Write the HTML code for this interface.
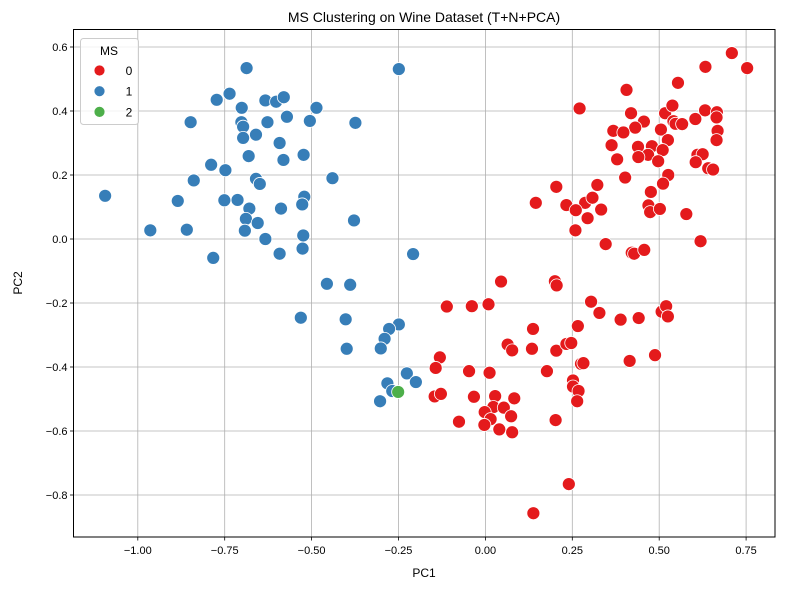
<!DOCTYPE html>
<html><head><meta charset="utf-8"><style>
body{margin:0;background:#fff;}
svg text{font-family:"Liberation Sans",sans-serif;fill:#000;}
</style></head><body>
<svg id="chart" width="790" height="590" xmlns="http://www.w3.org/2000/svg">
<rect width="790" height="590" fill="#fff"/>
<g id="grid"></g>
<g id="pts"></g>
<rect x="73.5" y="29.5" width="701.5" height="507.5" fill="none" stroke="#000" stroke-width="1"/>
<g id="ticks"></g>
<text x="424" y="22" font-size="14" text-anchor="middle">MS Clustering on Wine Dataset (T+N+PCA)</text>
<text x="424" y="577" font-size="12" text-anchor="middle">PC1</text>
<text x="22" y="283" font-size="12" text-anchor="middle" transform="rotate(-90 22 283)">PC2</text>
<g>
<rect x="80.5" y="38.5" width="58" height="86" rx="3" fill="#fff" fill-opacity="0.8" stroke="#ccc"/>
<text x="109" y="55" font-size="12" text-anchor="middle">MS</text>
<g id="leg"></g>
</g>
</svg>
<script>
const xTicks=[-1.00,-0.75,-0.50,-0.25,0.00,0.25,0.50,0.75];
const yTicks=[0.6,0.4,0.2,0.0,-0.2,-0.4,-0.6,-0.8];
const clusters=["0","1","2"];
const colors=["#e41a1c","#377eb8","#4daf4a"];
const cluster1X=[-0.687,-0.249,-0.736,-0.773,-0.633,-0.602,-0.580,-0.701,-0.486,-0.571,-0.848,-0.702,-0.697,-0.627,-0.505,-0.374,-0.697,-0.660,-0.592,-0.681,-0.523,-0.581,-0.789,-0.748,-0.839,-0.660,-0.649,-0.440,-1.094,-0.885,-0.751,-0.713,-0.521,-0.527,-0.679,-0.588,-0.689,-0.655,-0.378,-0.964,-0.859,-0.692,-0.633,-0.524,-0.526,-0.783,-0.592,-0.208,-0.456,-0.389,-0.531,-0.402,-0.399,-0.249,-0.277,-0.290,-0.301,-0.226,-0.200,-0.282,-0.268,-0.303];
const cluster1Y=[0.534,0.531,0.454,0.435,0.433,0.429,0.443,0.410,0.410,0.382,0.365,0.365,0.351,0.365,0.369,0.363,0.316,0.326,0.300,0.259,0.263,0.247,0.232,0.215,0.183,0.188,0.172,0.190,0.135,0.119,0.121,0.122,0.132,0.108,0.095,0.095,0.063,0.050,0.058,0.027,0.029,0.026,0.000,0.011,-0.030,-0.059,-0.046,-0.047,-0.140,-0.143,-0.246,-0.251,-0.343,-0.267,-0.281,-0.312,-0.342,-0.420,-0.447,-0.451,-0.475,-0.507];
const cluster0X=[0.709,0.633,0.753,0.554,0.406,0.271,0.419,0.517,0.538,0.632,0.666,0.665,0.541,0.547,0.566,0.604,0.456,0.431,0.368,0.397,0.505,0.668,0.525,0.665,0.363,0.439,0.479,0.510,0.468,0.440,0.610,0.625,0.379,0.497,0.605,0.641,0.655,0.402,0.526,0.511,0.204,0.322,0.476,0.145,0.233,0.287,0.308,0.260,0.333,0.294,0.469,0.474,0.502,0.578,0.259,0.346,0.421,0.428,0.457,0.619,0.045,0.200,0.205,-0.111,-0.039,0.009,0.304,0.328,0.389,0.441,0.507,0.520,0.525,0.137,0.266,0.064,0.077,0.134,0.204,0.233,0.247,-0.131,-0.143,0.415,0.488,0.275,0.282,-0.047,0.012,0.177,0.252,0.252,0.268,0.264,-0.146,-0.128,-0.033,0.028,0.083,0.023,0.053,-0.002,0.015,0.074,-0.003,-0.076,0.040,0.077,0.202,0.240,0.138];
const cluster0Y=[0.581,0.538,0.534,0.488,0.466,0.408,0.393,0.393,0.417,0.402,0.396,0.380,0.368,0.360,0.359,0.375,0.367,0.348,0.338,0.333,0.342,0.338,0.309,0.309,0.293,0.288,0.290,0.278,0.263,0.256,0.263,0.265,0.249,0.243,0.240,0.221,0.217,0.192,0.200,0.173,0.163,0.169,0.147,0.113,0.106,0.113,0.129,0.090,0.092,0.065,0.105,0.084,0.094,0.078,0.027,-0.016,-0.043,-0.046,-0.034,-0.007,-0.133,-0.132,-0.145,-0.211,-0.210,-0.204,-0.196,-0.231,-0.252,-0.247,-0.227,-0.210,-0.242,-0.281,-0.272,-0.330,-0.348,-0.343,-0.349,-0.328,-0.325,-0.370,-0.403,-0.381,-0.363,-0.390,-0.388,-0.413,-0.418,-0.413,-0.442,-0.461,-0.475,-0.507,-0.492,-0.484,-0.493,-0.491,-0.498,-0.525,-0.527,-0.541,-0.563,-0.554,-0.581,-0.571,-0.595,-0.604,-0.566,-0.766,-0.857];
const cluster2X=[-0.251];
const cluster2Y=[-0.478];

const X0=485.4, XS=347.6, Y0=239, YS=320;
const L=73.5,R=775,T=29.5,B=537;
function sx(v){return X0+v*XS;}
function sy(v){return Y0-v*YS;}
const NS="http://www.w3.org/2000/svg";
function mk(tag,attrs,parent){const e=document.createElementNS(NS,tag);for(const k in attrs)e.setAttribute(k,attrs[k]);parent.appendChild(e);return e;}
const grid=document.getElementById('grid'),ticks=document.getElementById('ticks'),pts=document.getElementById('pts'),leg=document.getElementById('leg');
xTicks.forEach(v=>{const x=sx(v);
 const g=mk('line',{x1:x,x2:x,y1:T,y2:B,stroke:'#b0b0b0','stroke-width':0.8},grid);
 
 
 mk('line',{x1:x,x2:x,y1:B,y2:B+3.5,stroke:'#000','stroke-width':0.8},ticks);
 const t=mk('text',{x:x,y:B+17,'font-size':11,'text-anchor':'middle'},ticks);
 t.textContent=(v<0?'\u2212':'')+Math.abs(v).toFixed(2);
 
 
});
yTicks.forEach(v=>{const y=sy(v);
 const g=mk('line',{x1:L,x2:R,y1:y,y2:y,stroke:'#b0b0b0','stroke-width':0.8},grid);
 
 
 mk('line',{x1:L-3.5,x2:L,y1:y,y2:y,stroke:'#000','stroke-width':0.8},ticks);
 const t=mk('text',{x:L-6,y:y+4,'font-size':11,'text-anchor':'end'},ticks);
 t.textContent=(v<0?'\u2212':'')+Math.abs(v).toFixed(1);
 
 
});
function drawSeries(xs,ys,ci){xs.forEach((v,i)=>{
 const c=mk('circle',{cx:sx(v),cy:sy(ys[i]),r:6.5,fill:colors[ci],stroke:'#fff','stroke-width':0.8},pts);
 
 
});}
drawSeries(cluster1X,cluster1Y,1);
drawSeries(cluster0X,cluster0Y,0);
drawSeries(cluster2X,cluster2Y,2);
clusters.forEach((c,i)=>{const y=70.5+i*20.7;
 const m=mk('circle',{cx:99.5,cy:y,r:5.5,fill:colors[i],stroke:'#fff','stroke-width':0.8},leg);
 
 
 const t=mk('text',{x:129,y:y+4.5,'font-size':12,'text-anchor':'middle'},leg);
 t.textContent=c;
 
 
});
</script>
</body></html>
